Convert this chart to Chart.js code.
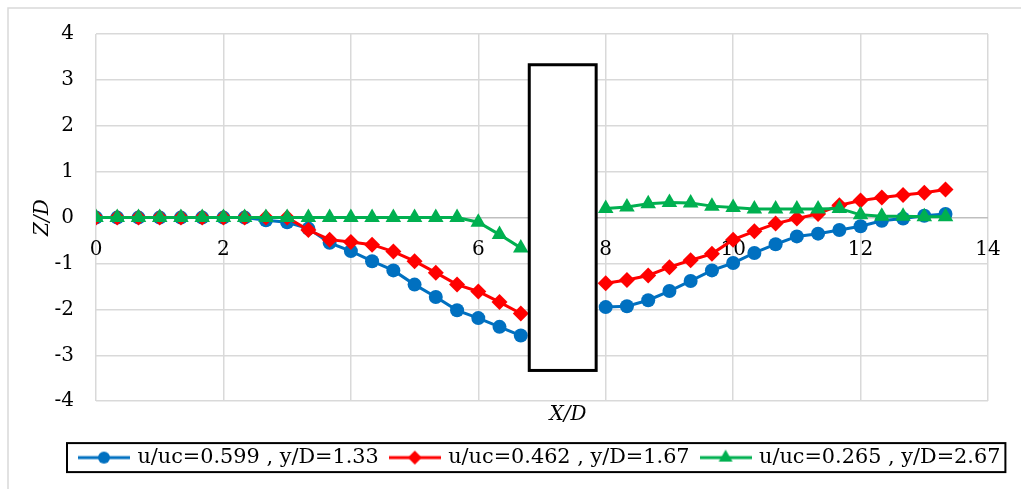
<!DOCTYPE html>
<html><head><meta charset="utf-8">
<script src="https://cdn.jsdelivr.net/npm/chart.js@4/dist/chart.umd.min.js"></script>
<style>html,body{margin:0;padding:0;background:#fff;}#wrap{width:1021px;height:489px;}</style>
</head><body><div id="wrap"><canvas id="c" width="1021" height="489"></canvas></div>
<script>
const xLeft = [0, 0.333, 0.667, 1, 1.333, 1.667, 2, 2.333, 2.667, 3, 3.333, 3.667, 4, 4.333, 4.667, 5, 5.333, 5.667, 6, 6.333, 6.667];
const xRight = [8, 8.333, 8.667, 9, 9.333, 9.667, 10, 10.333, 10.667, 11, 11.333, 11.667, 12, 12.333, 12.667, 13, 13.333];
const blueLeft = [0, 0, 0, 0, 0, 0, 0, 0, -0.06, -0.1, -0.24, -0.55, -0.73, -0.95, -1.15, -1.46, -1.73, -2.02, -2.19, -2.38, -2.57];
const blueRight = [-1.95, -1.93, -1.8, -1.6, -1.38, -1.15, -0.99, -0.77, -0.58, -0.41, -0.35, -0.27, -0.19, -0.07, -0.02, 0.04, 0.08];
const redLeft = [0, 0, 0, 0, 0, 0, 0, 0, 0, 0, -0.27, -0.48, -0.53, -0.59, -0.74, -0.95, -1.2, -1.46, -1.61, -1.84, -2.09];
const redRight = [-1.43, -1.36, -1.26, -1.08, -0.93, -0.79, -0.48, -0.3, -0.13, -0.02, 0.08, 0.27, 0.37, 0.44, 0.49, 0.54, 0.61];
const greenLeft = [0, 0, 0, 0, 0, 0, 0, 0, 0, 0, 0, 0, 0, 0, 0, 0, 0, 0, -0.1, -0.37, -0.66];
const greenRight = [0.2, 0.23, 0.3, 0.33, 0.32, 0.25, 0.22, 0.19, 0.19, 0.19, 0.19, 0.2, 0.06, 0.03, 0.03, 0.02, 0.02];
const seriesNames = ['u/uc=0.599 , y/D=1.33', 'u/uc=0.462 , y/D=1.67', 'u/uc=0.265 , y/D=2.67'];
const seriesColors = ['#0070C0', '#FF0000', '#00B050'];
const seriesStyles = ['circle', 'rectRot', 'triangle'];
const xTickValues = [0, 2, 4, 6, 8, 10, 12, 14];
const yTickValues = [-4, -3, -2, -1, 0, 1, 2, 3, 4];
const pierX = [6.8, 7.85];
const pierZ = [-3.33, 3.33];
const gapX = 7.333;

const FONT = 'DejaVu Serif';
const LEGEND_START = 81;

function pts(xs, ys) { return xs.map((x, i) => ({x: x, y: ys[i]})); }
function series(l, r) { return pts(xLeft, l).concat([{x: gapX, y: null}], pts(xRight, r)); }

function legendImg(i) {
  const c = document.createElement('canvas');
  c.width = 52; c.height = 20;
  const g = c.getContext('2d');
  g.strokeStyle = seriesColors[i]; g.fillStyle = seriesColors[i]; g.lineWidth = 3;
  g.beginPath(); g.moveTo(0, 10); g.lineTo(52, 10); g.stroke();
  g.beginPath();
  if (i === 0) { g.arc(26, 10, 6, 0, Math.PI * 2); }
  else if (i === 1) { g.moveTo(26, 3); g.lineTo(33, 10); g.lineTo(26, 17); g.lineTo(19, 10); g.closePath(); }
  else { const r = 8; g.moveTo(26, 10 - r); g.lineTo(26 + r * 0.866, 10 + r / 2); g.lineTo(26 - r * 0.866, 10 + r / 2); g.closePath(); }
  g.fill();
  return c;
}
const legendImgs = [0, 1, 2].map(legendImg);

const pierPlugin = {
  id: 'pier',
  afterLayout(chart) {
    const lg = chart.legend;
    const dx = LEGEND_START - (lg.left + lg.options.labels.padding);
    lg.left += dx; lg.right += dx;
  },
  beforeDraw(chart) {
    const ctx = chart.ctx;
    ctx.save();
    ctx.strokeStyle = '#d9d9d9'; ctx.lineWidth = 1.5;
    ctx.strokeRect(8, 8, 1100, 600);
    ctx.restore();
  },
  afterDatasetsDraw(chart) {
    const xs = chart.scales.x, ys = chart.scales.y, ctx = chart.ctx;
    const x1 = xs.getPixelForValue(pierX[0]), x2 = xs.getPixelForValue(pierX[1]);
    const y1 = ys.getPixelForValue(pierZ[1]), y2 = ys.getPixelForValue(pierZ[0]);
    ctx.save();
    ctx.fillStyle = '#fff';
    ctx.fillRect(x1, y1, x2 - x1, y2 - y1);
    ctx.strokeStyle = '#000'; ctx.lineWidth = 3;
    ctx.strokeRect(x1, y1, x2 - x1, y2 - y1);
    ctx.restore();
  },
  afterDraw(chart) {
    const ctx = chart.ctx, ca = chart.chartArea;
    ctx.save();
    ctx.fillStyle = '#000';
    ctx.font = 'italic 20px "' + FONT + '"';
    ctx.textAlign = 'center'; ctx.textBaseline = 'middle';
    ctx.fillText('X/D', (ca.left + ca.right) / 2 + 26, ca.bottom + 14);
    const hb = chart.legend.legendHitBoxes;
    if (hb && hb.length) {
      const L = Math.min(...hb.map(h => h.left));
      const R = Math.max(...hb.map(h => h.left + h.width));
      const cy = hb[0].top + hb[0].height / 2;
      ctx.strokeStyle = '#000'; ctx.lineWidth = 2;
      ctx.strokeRect(L - 14, cy - 14.5, R - L + 19, 29);
    }
    ctx.restore();
  }
};

new Chart(document.getElementById('c'), {
  type: 'line',
  data: {
    datasets: [0, 1, 2].map(i => ({
      label: seriesNames[i],
      data: [series(blueLeft, blueRight), series(redLeft, redRight), series(greenLeft, greenRight)][i],
      borderColor: seriesColors[i],
      backgroundColor: seriesColors[i],
      borderWidth: 3,
      pointStyle: seriesStyles[i],
      pointRadius: [7, 8, 9][i],
      pointBorderWidth: 0,
      pointBackgroundColor: seriesColors[i],
      spanGaps: false,
      tension: 0,
      order: 2 - i
    }))
  },
  options: {
    responsive: false,
    animation: false,
    devicePixelRatio: 1,
    layout: {padding: {left: 0, right: 33, top: 31, bottom: 11}},
    plugins: {
      tooltip: {enabled: false},
      legend: {
        position: 'bottom',
        align: 'start',
        labels: {
          usePointStyle: true,
          pointStyleWidth: 46,
          padding: 13,
          color: '#000',
          font: {family: FONT, size: 20.8},
          sort: (a, b) => a.datasetIndex - b.datasetIndex,
          generateLabels: chart => {
            const items = Chart.defaults.plugins.legend.labels.generateLabels(chart);
            items.forEach(it => { it.pointStyle = legendImgs[it.datasetIndex]; });
            return items;
          }
        }
      }
    },
    scales: {
      x: {
        type: 'linear', min: 0, max: 14,
        afterBuildTicks: s => { s.ticks = xTickValues.map(v => ({value: v})); },
        ticks: {display: false},
        grid: {color: '#d9d9d9', drawTicks: false, lineWidth: 1.5},
        border: {display: false},
        afterFit: s => { s.height = 33; }
      },
      x2: {
        type: 'linear', axis: 'x', position: {y: 0}, min: 0, max: 14,
        afterBuildTicks: s => { s.ticks = xTickValues.map(v => ({value: v})); },
        ticks: {color: '#000', font: {family: FONT, size: 20}, padding: 0, maxRotation: 0, autoSkip: false},
        grid: {display: false, drawTicks: true, tickLength: 20},
        border: {display: false},
        afterFit: s => { s.height = 0; }
      },
      y: {
        type: 'linear', min: -4, max: 4,
        afterBuildTicks: s => { s.ticks = yTickValues.map(v => ({value: v})); },
        ticks: {color: '#000', font: {family: FONT, size: 20}, padding: 22},
        grid: {color: c => (c.tick && c.tick.value === 0 ? '#bfbfbf' : '#d9d9d9'), drawTicks: false, lineWidth: 1.5},
        border: {display: false},
        title: {display: true, text: 'Z/D', color: '#000', font: {family: FONT, size: 20, style: 'italic'}, padding: {top: 31, bottom: 0}},
        afterFit: s => { s.width = 96; }
      }
    }
  },
  plugins: [pierPlugin]
});
</script>
</body></html>
